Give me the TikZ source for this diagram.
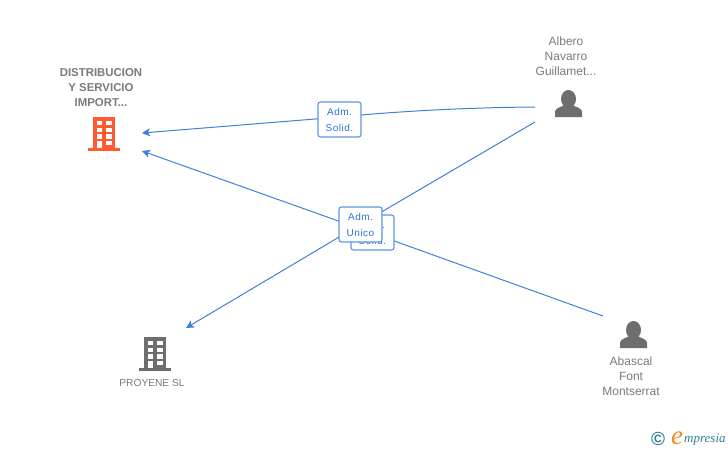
\documentclass[tikz,border=0pt]{standalone}
\usepackage{fontspec}
\setmainfont{Liberation Sans}
\newfontfamily\logofont{Liberation Serif}
\usetikzlibrary{arrows.meta}

\definecolor{linkblue}{HTML}{3F80DC}
\definecolor{boxblue}{HTML}{5C95E2}
\definecolor{labelblue}{HTML}{2F74D0}
\definecolor{icongrey}{HTML}{6E6E6E}
\definecolor{textgrey}{HTML}{7A7A7A}
\definecolor{iconorange}{HTML}{FF5A30}
\definecolor{logoteal}{HTML}{2F7F96}
\definecolor{logoorange}{HTML}{F08A1E}

\newcommand{\roletext}[2]{\raisebox{-3.5pt}[0pt][0pt]{\begin{tabular}{@{}c@{}}#1\\#2\end{tabular}}}

\tikzset{
	linkline/.style={draw=linkblue, line width=1pt},
	linkarrow/.style={linkline, -{Stealth[length=8pt, width=8pt, inset=2pt]}},
	rolebox/.style={draw=boxblue, line width=1.1pt, fill=white, rounded corners=2.5pt,
			minimum width=43pt, minimum height=35pt, inner sep=0pt,
			text=labelblue, font=\fontsize{10}{15.5}\selectfont\addfontfeatures{LetterSpace=5}},
	nametext/.style={align=center, text=textgrey, inner sep=0pt, font=\fontsize{12}{15}\selectfont},
	companytext/.style={nametext, font=\fontsize{11.4}{15}\selectfont\bfseries},
	buildingicon/.pic={
			\fill (-11.5,-17) rectangle (11,14);
			\fill (-16,14) rectangle (16,17);
			\foreach \y in {-13, -6.3, 0.3}{
					\fill[white] (-7,\y) rectangle (-2,\y+4.3);
					\fill[white] (2,\y) rectangle (7.5,\y+4.3);
				}
			\fill[white] (-7,7) rectangle (-2,14);
			\fill[white] (2,7) rectangle (7.5,11);
		},
	personicon/.pic={
			\fill (0,-4.5) ellipse (7.5 and 9);
			\fill (-13.5,13.5) -- (-13.5,8) .. controls (-13,4) and (-6,3.5) .. (-3.5,1)
			-- (3.5,1) .. controls (6,3.5) and (13,4) .. (13.5,8) -- (13.5,13.5) -- cycle;
		},
}

\begin{document}
\begin{tikzpicture}[x=1pt, y=-1pt]
	\useasboundingbox (0, 0) rectangle (728, 450);

	% entities
	\node[companytext] (distribucion) at (101, 87.5) {DISTRIBUCION\\Y SERVICIO\\IMPORT...};
	\node[nametext] (albero) at (566, 56) {Albero\\Navarro\\Guillamet...};
	\node[nametext] (abascal) at (631, 376) {Abascal\\Font\\Montserrat};
	\node[nametext, font=\fontsize{10.2}{15}\selectfont] (proyene) at (152, 383) {PROYENE SL};

	\pic[iconorange] at (104, 134) {buildingicon};
	\pic[icongrey] at (155, 354) {buildingicon};
	\pic[icongrey] at (568.5, 103.5) {personicon};
	\pic[icongrey] at (633.5, 334.5) {personicon};

	% connector ends
	\coordinate (distribucionA) at (142, 133);
	\coordinate (distribucionB) at (142, 151);
	\coordinate (proyeneA) at (186, 328);
	\coordinate (alberoA) at (535, 107);
	\coordinate (alberoB) at (535, 122);
	\coordinate (abascalA) at (603, 316);
	\coordinate (solidA) at (340, 117);
	\coordinate (solidB) at (372, 233);
	\coordinate (unicoA) at (361, 224);

	\draw[linkline] (alberoA) .. controls (470, 107.5) and (400, 111) .. (solidA);
	\draw[linkarrow] (solidA) -- (distribucionA);
	\draw[linkline] (abascalA) -- (solidB);
	\draw[linkarrow] (solidB) -- (distribucionB);
	\draw[linkline] (alberoB) -- (unicoA);
	\draw[linkarrow] (unicoA) -- (proyeneA);

	% role labels, the last one on top
	\node[rolebox] (roleA) at (339.5, 119.5) {\roletext{Adm.}{Solid.}};
	\node[rolebox] (roleB) at (372.5, 232.5) {\roletext{Adm.}{Solid.}};
	\node[rolebox] (roleC) at (360.5, 224.5) {\roletext{Adm.}{Unico}};

	% logo
	\node[text=logoteal, inner sep=0pt, font=\fontsize{19}{19}\selectfont\bfseries] (logoC) at (658, 438.5) {\textcopyright};
	\node[text=logoorange, inner sep=0pt, font=\logofont\itshape\fontsize{27}{27}\selectfont] (logoE) at (677, 438.5) {e};
	\node[text=logoteal, inner sep=0pt, anchor=west, font=\logofont\itshape\fontsize{13}{13}\selectfont] (logoT) at (684, 440) {mpresia};
\end{tikzpicture}
\end{document}
